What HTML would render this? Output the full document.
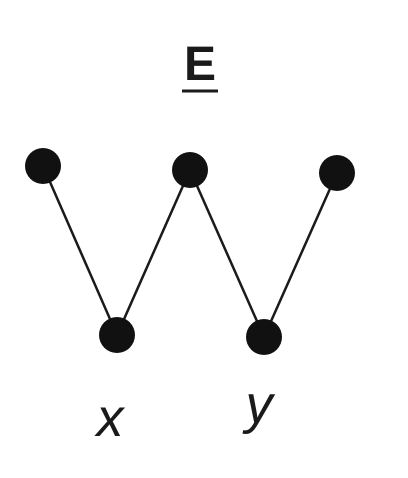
<!DOCTYPE html>
<html><head><meta charset="utf-8"><style>
html,body{margin:0;padding:0;background:#fff;width:408px;height:478px;overflow:hidden}
</style></head><body>
<svg width="408" height="478" viewBox="0 0 408 478">
<text x="200" y="80" text-anchor="middle" font-family="Liberation Sans, sans-serif" font-weight="bold" font-size="48" fill="#1a1a1a">E</text>
<line x1="182" y1="91" x2="218" y2="91" stroke="#1a1a1a" stroke-width="3"/>
<g id="g"></g>
<text x="110" y="436" text-anchor="middle" font-family="Liberation Sans, sans-serif" font-style="italic" font-size="54" fill="#1a1a1a">x</text>
<text x="259" y="423" text-anchor="middle" font-family="Liberation Sans, sans-serif" font-style="italic" font-size="54" fill="#1a1a1a">y</text>
</svg>
<script>
const nodeX=[43,117,190,264,337];
const nodeY=[166,335,170,337,173];
const g=document.getElementById('g');
const ns='http://www.w3.org/2000/svg';
for(let i=0;i<nodeX.length-1;i++){
  const l=document.createElementNS(ns,'line');
  l.setAttribute('x1',nodeX[i]);l.setAttribute('y1',nodeY[i]);
  l.setAttribute('x2',nodeX[i+1]);l.setAttribute('y2',nodeY[i+1]);
  l.setAttribute('stroke','#1a1a1a');l.setAttribute('stroke-width','2.5');
  
  
  g.appendChild(l);
}
for(let i=0;i<nodeX.length;i++){
  const c=document.createElementNS(ns,'circle');
  c.setAttribute('cx',nodeX[i]);c.setAttribute('cy',nodeY[i]);c.setAttribute('r','18');
  c.setAttribute('fill','#111');
  
  
  g.appendChild(c);
}
</script>
</body></html>
